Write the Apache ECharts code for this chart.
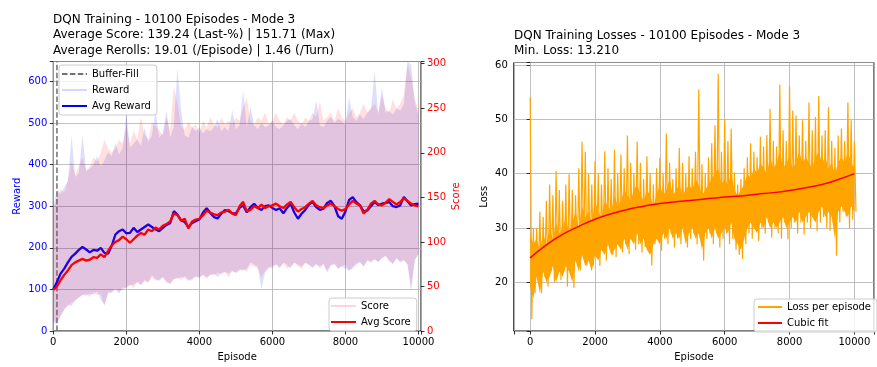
<!DOCTYPE html>
<html><head><meta charset="utf-8">
<script src="https://cdn.jsdelivr.net/npm/echarts@6/dist/echarts.min.js"></script>
<style>html,body{margin:0;padding:0;background:#fff}#c{width:877px;height:367px}</style>
</head><body><div id="c"></div>
<script>
// ---- data (sampled every 100 episodes unless noted) ----
const STEP = 100;
const bufferFill = [100];
const avgReward = [100,118,138,150,165,178,186,195,202,196,
 189,195,193,200,188,186,205,232,240,244,
 235,236,248,238,244,250,256,250,244,240,
 248,255,259,288,280,266,262,250,260,264,
 268,285,295,284,274,271,282,291,288,283,
 283,296,302,285,298,306,296,291,300,302,
 296,291,295,283,296,306,285,270,282,291,
 304,310,298,291,294,308,313,300,276,270,
 287,315,322,310,302,287,290,300,310,303,
 306,308,310,300,298,302,322,312,302,305,306];
const avgScore = [46,50,57,63,68,74,77,79,81,79,
 80,83,82,86,83,90,96,100,102,106,
 103,99,103,107,110,108,114,112,116,114,
 118,120,123,132,130,124,126,115,123,125,
 126,130,135,133,131,130,133,134,136,132,
 130,140,145,134,136,140,138,142,138,140,
 141,143,140,138,142,145,139,134,137,139,
 143,146,141,139,138,141,143,140,137,135,
 137,142,146,143,141,132,136,143,146,142,
 141,144,148,145,142,145,149,146,143,141,140];
// per-episode Reward: upper / lower envelope per 100 episodes
const rewardHi = [300,340,330,345,360,470,370,380,472,385,
 390,400,421,395,410,430,420,452,425,440,
 523,440,450,460,445,488,455,470,531,465,
 475,531,465,490,633,531,470,465,490,480,
 490,475,485,480,490,510,480,490,480,531,
 485,495,578,490,539,495,485,500,490,495,
 505,490,485,495,505,510,495,485,500,490,
 505,510,554,495,490,505,515,500,510,505,
 495,562,515,505,520,510,525,535,625,520,
 586,525,530,520,535,530,545,648,640,550,520];
const rewardLo = [20,16,35,50,63,60,75,80,87,85,
 90,87,95,75,63,90,95,100,90,105,
 103,110,112,118,110,122,118,134,125,120,
 130,118,115,125,126,130,128,120,126,130,
 128,135,130,134,138,130,140,142,138,145,
 140,148,145,150,165,160,155,100,140,150,
 157,160,150,165,160,150,165,160,155,165,
 160,150,160,155,162,140,158,160,150,155,
 150,145,150,160,165,155,170,168,173,165,
 175,181,170,160,175,165,170,160,95,170,185];
// per-episode Score: upper / lower envelope per 100 episodes
const scoreHi = [135,150,160,155,170,190,175,185,195,180,
 185,195,190,200,215,205,200,205,215,210,
 230,210,225,215,240,220,215,235,230,225,
 220,240,225,275,255,230,225,235,228,232,
 222,236,228,240,232,228,240,232,236,232,
 240,236,250,262,236,232,240,236,245,232,
 236,245,236,232,240,236,245,236,232,240,
 236,245,240,258,236,240,245,236,250,240,
 236,245,250,240,245,255,245,250,255,245,
 265,250,245,260,250,255,265,300,285,260,250];
const scoreLo = [12,10,18,25,28,32,33,38,40,42,
 38,44,40,42,28,44,42,48,44,46,
 50,52,48,55,52,56,54,60,56,58,
 60,55,52,58,60,57,62,58,56,62,
 60,63,58,64,62,66,63,66,60,67,
 65,68,70,66,74,72,70,60,68,72,
 70,75,72,76,70,73,77,72,70,76,
 74,72,76,70,75,68,74,76,70,73,
 75,68,72,76,78,72,79,76,80,78,
 82,84,78,76,82,78,80,75,50,80,86];
// loss spikes: upper extremes at episodes 0,100,...; lower extremes at 50,150,...
const lossHi = [54,30,30,33,32,35,38,36,40.5,37,
 35,38,39.9,37,36,41,45.9,44,40,38,
 42.3,40,38,44.1,41,39,44.4,40,43.5,41,
 47,42,40,45.9,42,39,43.2,40,38,41,
 42.9,40,47.4,42,39,41,44.7,42,40,43.2,
 41,44,55.5,41.7,40,43,45.6,48.9,58.4,44,
 50,46,48.3,40.2,38,39,41,43,45.6,44,
 43,46.8,45,47.1,51.9,46,45,56.4,48,46,
 56.1,51.6,50.7,47,49.8,46,53.1,48,50.4,54.3,
 47,48,52.2,46,44.7,47,48.3,46,53.1,49.8,46];
const lossLo = [13.2,18,20,18,21,19.2,22,20,23,20.4,
 22,19.2,23,19,24,22.2,25,23,26,23.1,
 25,23,26,24,27,25,24.6,27,25.5,27,
 25.2,28,26,27,25.5,26.5,28,23.1,27,28,
 25.8,28,27,29,26.4,28,27,29,26.4,28,
 29,27,28,24,28,29,27,29,26.4,28,
 29,27,28,26,25,24.3,27,29,28,30,
 27.6,30,29,31,28.2,30,29,28,31,27.9,
 30,31,29,31,28.8,31,30,32,29.4,31,
 32,30,29.5,31,24.9,31,33,32.1,30,31.5,33];
// dense (solid) part of the loss trace, per 100 episodes
const lossCoreHi = [29,27,28,26,29,27,30,28,31,29,
 30,32,29,31,33,30,34,32,33,31,
 35,33,32,35,34,33,36,34,35,37,
 36,35,37,38,36,35,37,36,34,36,
 38,36,37,39,36,37,38,36,37,38,
 37,39,38,36,37,38,39,40,41,38,
 39,38,40,37,36,37,38,40,39,41,
 40,42,41,40,43,41,42,44,41,42,
 43,41,42,44,42,43,42,41,43,44,
 42,43,41,42,40,42,43,42,44,42,41];
const lossCoreLo = [19,17,21,18,22,20,21,23,20,22,
 21,23,22,20,24,22,25,23,24,22,
 25,24,26,25,27,25,26,27,26,28,
 26,28,27,29,27,28,26,25,27,28,
 27,29,28,30,28,29,28,30,27,29,
 30,28,29,26,29,30,28,30,28,29,
 30,29,31,28,27,26,28,30,31,30,
 29,31,30,32,30,31,30,31,32,30,
 31,32,31,33,31,32,33,32,31,33,
 34,32,33,32,28,33,34,33,32,34,33];
// cubic fit, every 500 episodes
const cubicFit = [24.5,26.9,28.8,30.3,31.6,32.6,33.4,34.0,34.5,34.8,35.1,35.4,35.7,35.9,36.2,36.5,36.9,37.4,38.0,38.9,40.0];

const titleLeft = 'DQN Training - 10100 Episodes - Mode 3\nAverage Score: 139.24 (Last-%) | 151.71 (Max)\nAverage Rerolls: 19.01 (/Episode) | 1.46 (/Turn)';
const titleRight = 'DQN Training Losses - 10100 Episodes - Mode 3\nMin. Loss: 13.210';

// ---- build ----
const F = 'DejaVu Sans';
const R_MAX = 648, S_MAX = 302.5, XL_MAX = 10070;
const L_MIN = 11.03, L_MAX = 60.45, XR_MIN = -505, XR_MAX = 10605;
const pts = (arr, step, off) => arr.map((v, i) => [i * step + (off || 0), v]);
const lossPts = [];
for (let i = 0; i < lossHi.length; i++) {
  lossPts.push([i * STEP, lossHi[i]]);
  if (i < lossLo.length) lossPts.push([i * STEP + 50, lossLo[i]]);
}
// band between two envelopes, drawn through the axes' coordinate system
function band(hi, lo, step, xi, yi, color, z) {
  return {
    type: 'custom', xAxisIndex: xi, yAxisIndex: yi, z: z, silent: true, clip: true,
    data: [[0, 0]],
    renderItem: function (params, api) {
      const p = [];
      hi.forEach((v, i) => p.push(api.coord([i * step, v])));
      for (let i = lo.length - 1; i >= 0; i--) p.push(api.coord([i * step, lo[i]]));
      return {type: 'polygon', shape: {points: p}, style: {fill: color, stroke: null}};
    }
  };
}
const tick = {show: true, length: 3.5, lineStyle: {color: '#000', width: 0.8}};
const split = {show: true, lineStyle: {color: '#b0b0b0', width: 0.8}};
const onlyMult = m => v => (Math.abs(v / m - Math.round(v / m)) < 1e-6 ? String(Math.round(v)) : '');
const legendBase = {orient: 'vertical', itemWidth: 25, itemHeight: 12, itemGap: 4,
  backgroundColor: 'rgba(255,255,255,0.8)', borderColor: '#cccccc', borderWidth: 1, borderRadius: 3,
  itemStyle: {opacity: 0, borderWidth: 0},
  textStyle: {fontFamily: F, fontSize: 10, color: '#000', lineHeight: 12}, selectedMode: false, z: 20};

const option = {
  animation: false,
  textStyle: {fontFamily: F},
  title: [
    {text: titleLeft, left: 53, top: 11.5, padding: 0,
     textStyle: {fontFamily: F, fontSize: 12, fontWeight: 'normal', color: '#000', lineHeight: 15.8}},
    {text: titleRight, left: 514, top: 27.5, padding: 0,
     textStyle: {fontFamily: F, fontSize: 12, fontWeight: 'normal', color: '#000', lineHeight: 15.8}}
  ],
  grid: [
    {left: 53.3, top: 61.5, width: 367.7, height: 275.8, show: true, borderColor: '#000', borderWidth: 1, backgroundColor: '#fff'},
    {left: 513.8, top: 62.5, width: 372.5, height: 274.8, show: true, borderColor: '#000', borderWidth: 1, backgroundColor: '#fff'}
  ],
  xAxis: [
    {type: 'value', gridIndex: 0, min: 0, max: XL_MAX, interval: 2000,
     axisLine: {show: false}, axisTick: tick, splitLine: split,
     axisLabel: {fontFamily: F, fontSize: 10, color: '#000', margin: 6, formatter: onlyMult(2000)},
     name: 'Episode', nameLocation: 'middle', nameGap: 21, nameTextStyle: {fontFamily: F, fontSize: 10, color: '#000'}},
    {type: 'value', gridIndex: 1, min: XR_MIN, max: XR_MAX, splitNumber: 5,
     axisLine: {show: false}, axisTick: tick, splitLine: split,
     axisLabel: {fontFamily: F, fontSize: 10, color: '#000', margin: 6, formatter: onlyMult(2000)},
     name: 'Episode', nameLocation: 'middle', nameGap: 21, nameTextStyle: {fontFamily: F, fontSize: 10, color: '#000'}}
  ],
  yAxis: [
    {type: 'value', gridIndex: 0, min: 0, max: R_MAX, interval: 100, position: 'left',
     axisLine: {show: false}, axisTick: tick, splitLine: split,
     axisLabel: {fontFamily: F, fontSize: 10, color: '#0000ff', margin: 6, formatter: onlyMult(100)},
     name: 'Reward', nameLocation: 'middle', nameRotate: 90, nameGap: 31, nameTextStyle: {fontFamily: F, fontSize: 10, color: '#0000ff'}},
    {type: 'value', gridIndex: 0, min: 0, max: S_MAX, interval: 50, position: 'right',
     axisLine: {show: false}, axisTick: tick, splitLine: {show: false},
     axisLabel: {fontFamily: F, fontSize: 10, color: '#ff0000', margin: 6, formatter: onlyMult(50)},
     name: 'Score', nameLocation: 'middle', nameRotate: 90, nameGap: 30, nameTextStyle: {fontFamily: F, fontSize: 10, color: '#ff0000'}},
    {type: 'value', gridIndex: 1, min: L_MIN, max: L_MAX, splitNumber: 5, position: 'left',
     axisLine: {show: false}, axisTick: tick, splitLine: split,
     axisLabel: {fontFamily: F, fontSize: 10, color: '#000', margin: 6, formatter: onlyMult(10)},
     name: 'Loss', nameLocation: 'middle', nameRotate: 90, nameGap: 24, nameTextStyle: {fontFamily: F, fontSize: 10, color: '#000'}}
  ],
  legend: [
    Object.assign({}, legendBase, {left: 59, top: 65, padding: [3, 6, 3, 2],
      data: ['Buffer-Fill', 'Reward', 'Avg Reward']}),
    Object.assign({}, legendBase, {left: 329, top: 298, padding: [2, 6, 3, 1],
      data: ['Score', 'Avg Score']}),
    Object.assign({}, legendBase, {left: 754, top: 299, padding: [2, 6, 3, 3], itemWidth: 24,
      data: ['Loss per episode', 'Cubic fit']})
  ],
  series: [
    band(rewardHi, rewardLo, STEP, 0, 0, 'rgba(0,0,255,0.13)', 2),
    {name: 'Reward', type: 'line', xAxisIndex: 0, yAxisIndex: 0, data: [], symbol: 'none',
     lineStyle: {color: 'rgba(0,0,255,0.16)', width: 1.5}, itemStyle: {color: 'rgba(0,0,255,0.16)'}},
    {name: 'Buffer-Fill', type: 'line', xAxisIndex: 0, yAxisIndex: 0, symbol: 'none',
     data: [[bufferFill[0], 0], [bufferFill[0], R_MAX]],
     lineStyle: {color: '#707070', width: 1.5, type: [5.5, 2.4]}, itemStyle: {color: '#707070'}, z: 3},
    {name: 'Avg Reward', type: 'line', xAxisIndex: 0, yAxisIndex: 0, data: pts(avgReward, STEP), symbol: 'none',
     lineStyle: {color: '#0000ff', width: 2.3}, itemStyle: {color: '#0000ff'}, z: 3},
    band(scoreHi, scoreLo, STEP, 0, 1, 'rgba(255,0,0,0.12)', 4),
    {name: 'Score', type: 'line', xAxisIndex: 0, yAxisIndex: 1, data: [], symbol: 'none',
     lineStyle: {color: 'rgba(255,0,0,0.16)', width: 1.5}, itemStyle: {color: 'rgba(255,0,0,0.16)'}},
    {name: 'Avg Score', type: 'line', xAxisIndex: 0, yAxisIndex: 1, data: pts(avgScore, STEP), symbol: 'none',
     lineStyle: {color: '#ff0000', width: 2.3}, itemStyle: {color: '#ff0000'}, z: 5},
    band(lossCoreHi, lossCoreLo, STEP, 1, 2, '#ffa500', 3),
    {name: 'Loss per episode', type: 'line', xAxisIndex: 1, yAxisIndex: 2, data: lossPts, symbol: 'none',
     lineStyle: {color: '#ffa500', width: 1.2}, itemStyle: {color: '#ffa500'}, z: 3},
    {name: 'Cubic fit', type: 'line', xAxisIndex: 1, yAxisIndex: 2, data: pts(cubicFit, 500), symbol: 'none', smooth: true,
     lineStyle: {color: '#ff0000', width: 1.5}, itemStyle: {color: '#ff0000'}, z: 4}
  ]
};
const chart = echarts.init(document.getElementById('c'), null, {renderer: 'canvas'});
chart.setOption(option);
</script></body></html>
